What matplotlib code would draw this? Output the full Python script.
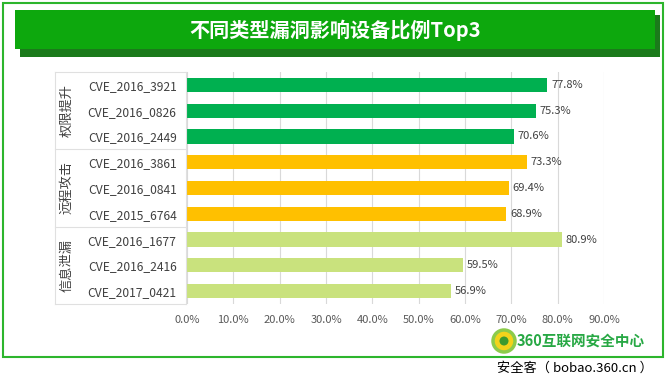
import matplotlib.pyplot as plt
from matplotlib.patches import Rectangle, Ellipse
from matplotlib.lines import Line2D

plt.rcParams['font.family'] = ['Noto Sans CJK SC', 'DejaVu Sans']

# данные
cves = ['CVE_2016_3921', 'CVE_2016_0826', 'CVE_2016_2449',
        'CVE_2016_3861', 'CVE_2016_0841', 'CVE_2015_6764',
        'CVE_2016_1677', 'CVE_2016_2416', 'CVE_2017_0421']
values = [77.8, 75.3, 70.6, 73.3, 69.4, 68.9, 80.9, 59.5, 56.9]
groups = ['权限提升', '远程攻击', '信息泄漏']
group_colors = ['#00B050', '#FFC000', '#C9E27D']
per_group = 3
xticks = [0, 10, 20, 30, 40, 50, 60, 70, 80, 90]

W, H = 669, 385
fig = plt.figure(figsize=(W / 100, H / 100), dpi=100)
fig.patch.set_facecolor('white')

def fx(px):
    return px / W

def fy(py):
    return 1 - py / H

# рамка
fig.add_artist(Rectangle((fx(3), fy(357)), fx(663) - fx(3), fy(3) - fy(357),
                         transform=fig.transFigure, fill=False,
                         edgecolor='#2DB52D', linewidth=1.5))
# заголовок с тенью
fig.add_artist(Rectangle((fx(20), fy(57)), fx(640), fy(15) - fy(57),
                         transform=fig.transFigure, color='#1B7A1B', linewidth=0))
fig.add_artist(Rectangle((fx(15), fy(49)), fx(640), fy(10) - fy(49),
                         transform=fig.transFigure, color='#0DA80D', linewidth=0))
fig.text(fx(335), fy(30), '不同类型漏洞影响设备比例Top3', color='white',
         fontsize=14.5, fontweight='bold', ha='center', va='center')

# основной график
ax = fig.add_axes([fx(187), fy(304), fx(604) - fx(187), fy(72) - fy(304)])
colors = [group_colors[i // per_group] for i in range(len(values))]
ypos = list(range(len(values)))
ax.barh(ypos, values, height=0.55, color=colors, zorder=3)
for y, v in zip(ypos, values):
    ax.text(v + 0.8, y, f'{v:.1f}%', va='center', ha='left', fontsize=8, color='#404040')
ax.set_xlim(0, 90)
ax.set_ylim(len(values) - 0.5, -0.5)
ax.set_xticks(xticks)
ax.set_xticklabels([f'{t:.1f}%' for t in xticks], fontsize=8, color='#595959')
ax.set_yticks(ypos)
ax.set_yticklabels(cves, fontsize=8.7, color='#404040')
ax.tick_params(length=0)
ax.tick_params(axis='y', pad=7.5)
ax.tick_params(axis='x', pad=8)
ax.grid(axis='x', color='#D9D9D9', linewidth=0.8, zorder=0)
for s in ax.spines.values():
    s.set_visible(False)

# блок категорий
left_px, right_px = 55, 186
top_px, bot_px = 72, 304
row_h = (bot_px - top_px) / len(values)
lc = '#E0E0E0'
for py in [top_px, bot_px]:
    fig.add_artist(Line2D([fx(left_px), fx(right_px)], [fy(py), fy(py)],
                          transform=fig.transFigure, color=lc, linewidth=0.8))
fig.add_artist(Line2D([fx(left_px), fx(left_px)], [fy(top_px), fy(bot_px)],
                      transform=fig.transFigure, color=lc, linewidth=0.8))
fig.add_artist(Line2D([fx(right_px), fx(right_px)], [fy(top_px), fy(bot_px)],
                      transform=fig.transFigure, color=lc, linewidth=0.8))
for g in range(1, len(groups)):
    py = top_px + g * per_group * row_h
    fig.add_artist(Line2D([fx(left_px), fx(right_px)], [fy(py), fy(py)],
                          transform=fig.transFigure, color=lc, linewidth=0.8))
for g, name in enumerate(groups):
    py = top_px + (g + 0.5) * per_group * row_h
    fig.text(fx(67), fy(py), name, rotation=90, ha='center', va='center',
             fontsize=9.5, color='#404040')

# логотип
fig.add_artist(Ellipse((fx(504), fy(341)), 22 / W, 22 / H, transform=fig.transFigure,
                       facecolor='#F2D31B', edgecolor='#8CCB4A', linewidth=2.5))
fig.add_artist(Ellipse((fx(504), fy(341)), 9 / W, 9 / H, transform=fig.transFigure,
                       facecolor='#3C9A2E', edgecolor='none'))
fig.text(fx(517), fy(341), '360互联网安全中心', color='#27A844', fontsize=10.5,
         fontweight='bold', ha='left', va='center')
fig.text(fx(497), fy(368), '安全客（ bobao.360.cn ）', color='black', fontsize=9.5,
         ha='left', va='center')

fig.savefig('out.png', dpi=100)
